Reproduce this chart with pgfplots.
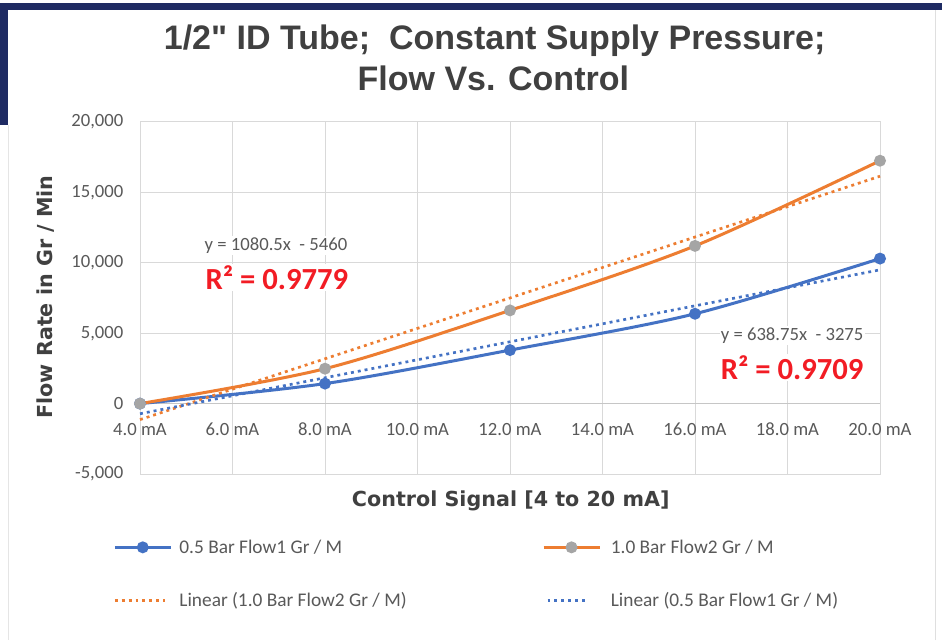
\documentclass[border=0pt]{standalone}
\usepackage{pgfplots}
\pgfplotsset{compat=1.18}
\usepackage{fontspec}
\setmainfont{Carlito}
\newfontfamily\titlefont{Liberation Sans}
\newfontfamily\labelfont{DejaVu Sans}
\definecolor{cblue}{HTML}{4472C4}
\definecolor{corange}{HTML}{ED7D31}
\definecolor{cgray}{HTML}{A5A5A5}
\definecolor{tgray}{HTML}{595959}
\definecolor{titlegray}{HTML}{404040}
\definecolor{gridc}{HTML}{D9D9D9}
\definecolor{zeroc}{HTML}{C6C6C6}
\definecolor{navy}{HTML}{1F2B63}
\definecolor{rred}{HTML}{F21C24}
\pgfplotsset{
  dotlegA/.style={legend image code/.code={\draw[##1] (0pt,0pt)--(38pt,0pt); \path (46pt,0pt);}},
  dotlegB/.style={legend image code/.code={\draw[##1] (3pt,0pt)--(34pt,0pt); \path (0pt,0pt) (48pt,0pt);}},
}
\begin{document}
\begin{tikzpicture}[x=1pt,y=1pt]
\path[use as bounding box, fill=white] (0,0) rectangle (706.5,480);
\fill[navy] (0,472.5) rectangle (706.5,477.75);
\fill[navy] (0,386) rectangle (6,477.75);
\draw[gray!20, line width=0.8pt] (6.4,0)--(6.4,386);
\draw[gray!25, line width=0.8pt] (701.5,0)--(701.5,472.5);
\node[anchor=base, font=\titlefont\bfseries\fontsize{25.5}{30}\selectfont, text=titlegray] at (371,442.5) {1/2" ID Tube;\ \ Constant Supply Pressure;};
\node[anchor=base, font=\titlefont\bfseries\fontsize{25.5}{30}\selectfont, text=titlegray] at (370,411.75) {Flow Vs. Control};
\begin{axis}[
  at={(105pt,124.5pt)}, anchor=south west,
  scale only axis, width=555pt, height=264pt,
  xmin=4, xmax=20, ymin=-5000, ymax=20000,
  xtick={4,6,...,20},
  xticklabels={4.0 mA,6.0 mA,8.0 mA,10.0 mA,12.0 mA,14.0 mA,16.0 mA,18.0 mA,20.0 mA},
  ytick={-5000,0,5000,10000,15000,20000},
  scaled y ticks=false,
  /pgf/number format/assume math mode=true,
  /pgf/number format/1000 sep={,},
  yticklabel={\pgfmathprintnumber{\tick}},
  tick label style={font=\fontsize{14}{16}\selectfont, text=tgray},
  yticklabel style={anchor=east, xshift=-9pt},
  xticklabel style={anchor=base, yshift=29pt},
  major tick length=0pt,
  grid=major,
  major grid style={gridc, line width=0.75pt},
  axis line style={draw=gridc, line width=0.75pt},
  clip=false,
  xlabel={Control Signal [4 to 20 mA]},
  ylabel={Flow Rate in Gr / Min},
  xlabel style={at={(axis description cs:0.501,-0.077)}, anchor=center, font=\labelfont\bfseries\fontsize{15.5}{18}\selectfont, text=titlegray},
  ylabel style={at={(axis description cs:-0.128,0.503)}, anchor=center, rotate=0, font=\labelfont\bfseries\fontsize{15.5}{18}\selectfont, text=titlegray},
  legend style={draw=none, fill=none, at={(axis description cs:-0.0365,-0.18)}, anchor=north west,
    legend columns=2, font=\fontsize{14.5}{17}\selectfont, text=tgray,
    /tikz/every even column/.append style={column sep=100pt}, row sep=25pt,
    inner sep=0pt, nodes={inner sep=1.5pt}},
  legend cell align=left,
  legend image code/.code={\draw[mark repeat=2,mark phase=2,#1] plot coordinates {(0pt,0pt) (21pt,0pt) (42pt,0pt)};},
]
\addplot[forget plot, color=zeroc, line width=0.9pt] coordinates {(4,0) (20,0)};
\addplot[cblue, line width=2.25pt, smooth, mark=*, mark size=3.3pt, mark options={fill=cblue, draw=cblue}] coordinates {(4,0) (8,1420) (12,3800) (16,6380) (20,10300)};
\addlegendentry{0.5 Bar Flow1 Gr / M}
\addplot[corange, line width=2.25pt, smooth, mark=*, mark size=3.3pt, mark options={fill=cgray, draw=cgray}] coordinates {(4,0) (8,2480) (12,6620) (16,11200) (20,17250)};
\addlegendentry{1.0 Bar Flow2 Gr / M}
\addplot[corange, line width=2pt, dash pattern=on 2.2pt off 3pt, dotlegA] coordinates {(4,-1138) (20,16150)};
\addlegendentry{Linear (1.0 Bar Flow2 Gr / M)}
\addplot[cblue, line width=2pt, dash pattern=on 2.2pt off 3pt, dotlegB] coordinates {(4,-720) (20,9500)};
\addlegendentry{Linear (0.5 Bar Flow1 Gr / M)}
\node[fill=white, inner sep=1pt, text=tgray, font=\fontsize{14}{16}\selectfont] at (axis cs:6.94,11237) {y = 1080.5x\ \ - 5460};
\node[fill=white, inner sep=1pt, text=rred, font=\bfseries\fontsize{23}{26}\selectfont] at (axis cs:6.96,8962) {R² = 0.9779};
\node[fill=white, inner sep=1pt, text=tgray, font=\fontsize{14}{16}\selectfont] at (axis cs:18.1,4836) {y = 638.75x\ \ - 3275};
\node[fill=white, inner sep=1pt, text=rred, font=\bfseries\fontsize{23}{26}\selectfont] at (axis cs:18.1,2560) {R² = 0.9709};
\end{axis}
\end{tikzpicture}
\end{document}
